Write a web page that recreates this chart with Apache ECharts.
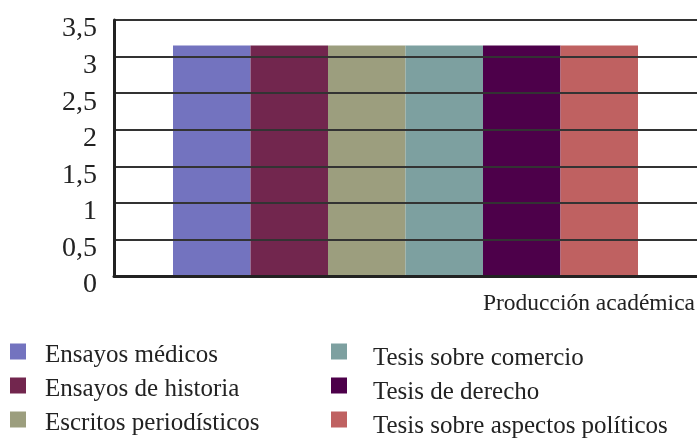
<!DOCTYPE html>
<html>
<head>
<meta charset="utf-8">
<script src="https://cdn.jsdelivr.net/npm/echarts@6/dist/echarts.min.js"></script>
<style>
  html, body { margin: 0; padding: 0; background: #fff; }
  #main { width: 697px; height: 438px; }
</style>
</head>
<body>
<div id="main"></div>
<script>
var categories = ['Producción académica']
var seriesNames = ['Ensayos médicos', 'Ensayos de historia', 'Escritos periodísticos',
                   'Tesis sobre comercio', 'Tesis de derecho', 'Tesis sobre aspectos políticos']
var seriesValues = [[3.15], [3.15], [3.15], [3.15], [3.15], [3.15]]
var colors = ['#7373BF', '#72264E', '#9C9E7E', '#7DA0A0', '#4D004A', '#BF6161']

var font = '"Liberation Serif", "DejaVu Serif", serif'
var myChart = echarts.init(document.getElementById('main'))

var series = seriesNames.map(function (name, i) {
    return {
        name: name,
        type: 'bar',
        data: seriesValues[i],
        barGap: '0%',
        barWidth: 77.5,
        itemStyle: { color: colors[i] }
    }
})

// legend text sits a bit lower than its square in the original
function legendCol(names, left, top, gap, shift, textPad) {
    return {
        data: names,
        orient: 'vertical',
        left: left, top: top, height: 200, padding: 0,
        itemWidth: 16, itemHeight: 16, itemGap: gap,
        icon: 'rect',
        formatter: function (n) { return '{t|' + n + '}' },
        textStyle: {
            padding: [0, 0, 0, textPad],
            rich: { t: { fontFamily: font, fontSize: 25, color: '#222', lineHeight: 25, padding: [shift, 0, 0, 0] } }
        }
    }
}

var option = {
    color: colors,
    animation: false,
    textStyle: { fontFamily: font },
    grid: { left: 114, right: 0, top: 20, bottom: 162, containLabel: false, outerBoundsMode: 'none' },
    legend: [
        legendCol(seriesNames.slice(0, 3), 10, 335, 1, 8, 14),
        legendCol(seriesNames.slice(3), 331, 332, -5, 14, 21)
    ],
    xAxis: {
        type: 'category',
        data: categories,
        name: categories[0],
        nameLocation: 'end',
        nameGap: -2,
        nameTextStyle: { fontFamily: font, fontSize: 23.5, color: '#222', align: 'right', verticalAlign: 'top', padding: [16, 0, 0, 0] },
        axisLine: { lineStyle: { color: '#222', width: 3 } },
        axisTick: { show: false },
        axisLabel: { show: false },
        z: 5
    },
    yAxis: {
        type: 'value',
        min: 0, max: 3.5, interval: 0.5,
        axisLine: { show: true, lineStyle: { color: '#222', width: 3 } },
        axisTick: { show: false },
        splitLine: { lineStyle: { color: '#333', width: 2 } },
        axisLabel: {
            margin: 17,
            fontFamily: font, fontSize: 28, color: '#222',
            lineHeight: 18, verticalAlign: 'top',
            showMinLabel: true, showMaxLabel: true, hideOverlap: false,
            formatter: function (v) { return String(v).replace('.', ',') }
        },
        z: 5
    },
    series: series
}

myChart.setOption(option)
</script>
</body>
</html>
